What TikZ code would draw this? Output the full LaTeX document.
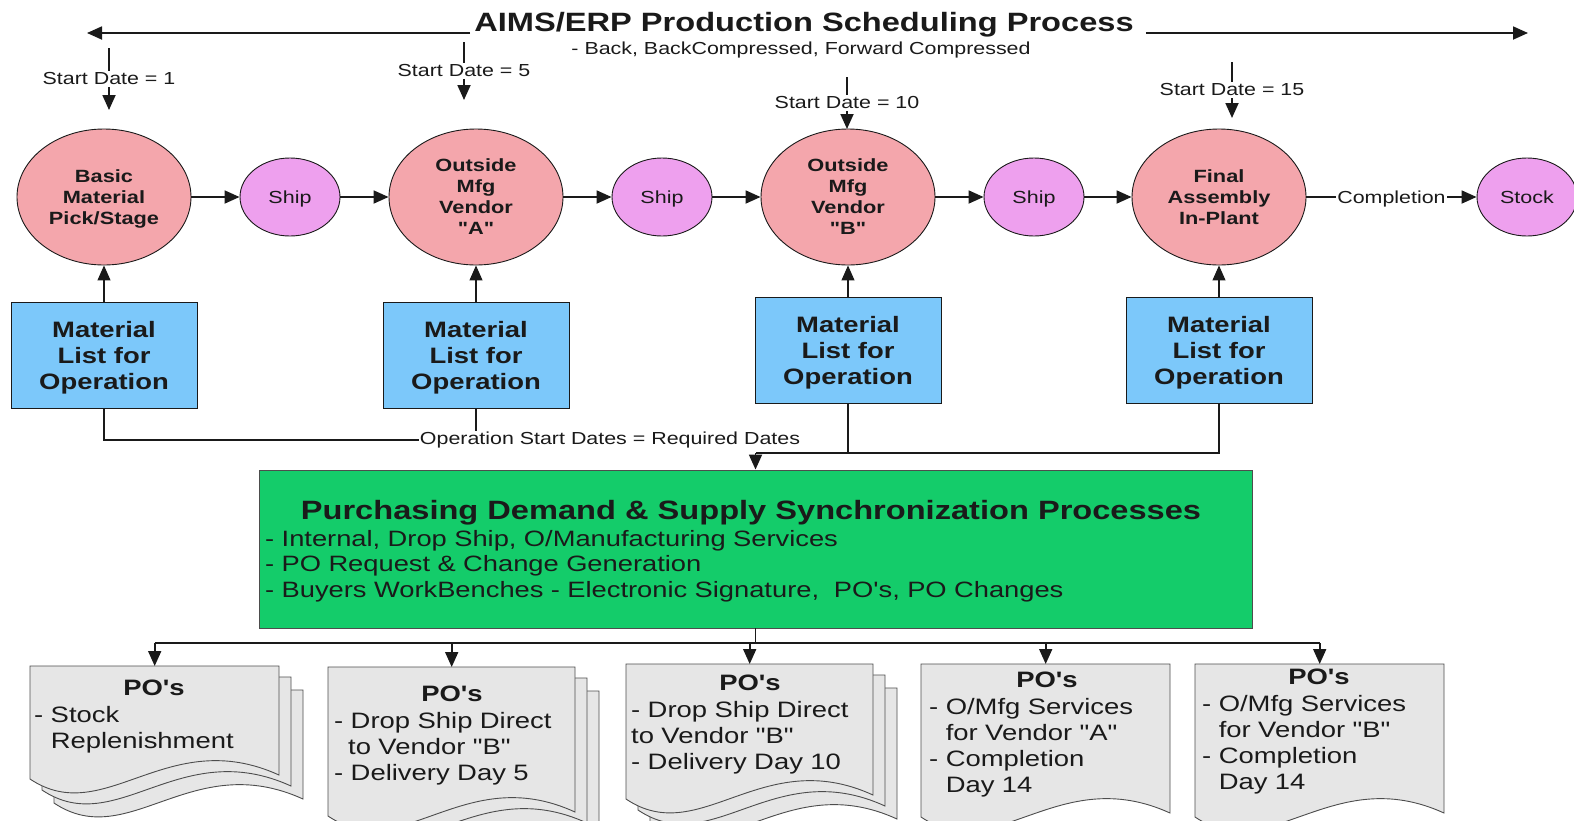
\documentclass[tikz,border=0pt]{standalone}
\usepackage{fontspec}
\setmainfont{Liberation Sans}[FakeStretch=1.23, Ligatures=TeXOff]
\usetikzlibrary{arrows.meta,shapes.geometric,calc}
\definecolor{lc}{HTML}{1A1A1A}
\definecolor{pinkc}{HTML}{F4A6AC}
\definecolor{violc}{HTML}{EEA0EE}
\definecolor{bluec}{HTML}{7CC8FA}
\definecolor{greenc}{HTML}{14CC6A}
\definecolor{docc}{HTML}{E6E6E6}
\definecolor{docline}{HTML}{4D4D4D}
\tikzset{
  conn/.style={draw=lc, line width=1.8pt},
  arr/.style={conn, -{Triangle[length=15pt,width=13pt]}},
  thinarr/.style={draw=lc, line width=1.1pt, -{Triangle[length=15pt,width=13pt]}},
  thinconn/.style={draw=lc, line width=1.3pt},
  lbl/.style={text=lc, inner sep=1.5pt, font=\fontsize{17.4}{20}\selectfont},
  bigc/.style={ellipse, draw=lc, line width=0.9pt, fill=pinkc, minimum width=174pt, minimum height=136pt, inner sep=0pt, align=center, text=lc, text depth=0pt, font=\bfseries\fontsize{17.7}{21}\selectfont},
  smallc/.style={ellipse, draw=lc, line width=0.9pt, fill=violc, minimum width=100pt, minimum height=78pt, inner sep=0pt, align=center, text=lc, text depth=0pt, font=\fontsize{17.5}{21}\selectfont},
  matbox/.style={rectangle, draw=lc, line width=0.9pt, fill=bluec, minimum width=186pt, minimum height=106pt, inner sep=0pt, align=center, text=lc, text depth=0pt, font=\bfseries\fontsize{22.3}{26}\selectfont},
  greenbox/.style={rectangle, draw=docline, line width=0.9pt, fill=greenc, minimum width=993pt, minimum height=158pt, inner sep=0pt},
  docnode/.style={rectangle, draw=none, inner sep=0pt, anchor=north west},
  docpagestyle/.style={fill=docc, draw=docline, line width=0.9pt},
  potitle/.style={inner sep=0pt, text=lc, font=\bfseries\fontsize{22.3}{26}\selectfont},
  pobody/.style={inner sep=0pt, text=lc, anchor=base west, text width=245pt, align=left, font=\fontsize{22.3}{26}\selectfont},
}
\newcommand\docpage[4]{%
  \filldraw[docpagestyle] (#1,#2) -- ({#1+#3},#2) -- ({#1+#3},{#2+#4-4})
   .. controls ({#1+0.55*#3},{#2+#4-55}) and ({#1+0.3*#3},{#2+#4+50}) .. (#1,{#2+#4}) -- cycle;}
\newcommand\multidoc[4]{%
  \docpage{#1+24}{#2+24}{#3}{#4}%
  \docpage{#1+12}{#2+11}{#3}{#4}%
  \docpage{#1}{#2}{#3}{#4}}
\begin{document}
\begin{tikzpicture}[x=1pt,y=-1pt]
\clip (0,0) rectangle (1574,820);
\fill[white] (0,0) rectangle (1574,820);

% title
\node[inner sep=0pt, text=lc, font=\bfseries\fontsize{26.5}{30}\selectfont] (title) at (804,25) {AIMS/ERP Production Scheduling Process};
\node[lbl] (subtitle) at (801,50) {- Back, BackCompressed, Forward Compressed};
\coordinate (tL) at (87,33);
\coordinate (tR) at (1528,33);
\draw[arr] ([xshift=-4pt]title.west |- tL) -- (tL);
\draw[arr] ([xshift=12pt]title.east |- tR) -- (tR);

% start date markers
\coordinate (m1a) at (109,48);  \coordinate (m1b) at (109,110);
\coordinate (m2a) at (464,42);  \coordinate (m2b) at (464,100);
\coordinate (m3a) at (847,77);  \coordinate (m3b) at (847,129);
\coordinate (m4a) at (1232,62); \coordinate (m4b) at (1232,118);
\draw[arr] (m1a) -- node[lbl, fill=white] (sd1) {Start Date = 1} (m1b);
\draw[arr] (m2a) -- node[lbl, fill=white] (sd2) {Start Date = 5} (m2b);
\draw[arr] (m3a) -- node[lbl, fill=white] (sd3) {Start Date = 10} (m3b);
\draw[arr] (m4a) -- node[lbl, fill=white] (sd4) {Start Date = 15} (m4b);

% process row
\node[bigc] (c1) at (104,197) {Basic\\Material\\Pick/Stage};
\node[smallc] (s1) at (290,197) {Ship};
\node[bigc] (c2) at (476,197) {Outside\\Mfg\\Vendor\\"A"};
\node[smallc] (s2) at (662,197) {Ship};
\node[bigc] (c3) at (848,197) {Outside\\Mfg\\Vendor\\"B"};
\node[smallc] (s3) at (1034,197) {Ship};
\node[bigc] (c4) at (1219,197) {Final\\Assembly\\In-Plant};
\node[smallc] (stock) at (1527,197) {Stock};
\draw[arr] (c1) -- (s1);
\draw[arr] (s1) -- (c2);
\draw[arr] (c2) -- (s2);
\draw[arr] (s2) -- (c3);
\draw[arr] (c3) -- (s3);
\draw[arr] (s3) -- (c4);
\draw[arr] (c4) -- node[lbl, fill=white, inner sep=1pt, text depth=0pt] (compl) {Completion} (stock);

% material lists
\node[matbox] (b1) at (104,355) {Material\\List for\\Operation};
\node[matbox] (b2) at (476,355) {Material\\List for\\Operation};
\node[matbox] (b3) at (848,350) {Material\\List for\\Operation};
\node[matbox] (b4) at (1219,350) {Material\\List for\\Operation};
\draw[thinarr] (b1) -- (c1);
\draw[thinarr] (b2) -- (c2);
\draw[thinarr] (b3) -- (c3);
\draw[thinarr] (b4) -- (c4);

% required dates
\node[lbl, inner sep=1pt] (osd) at (610,440) {Operation Start Dates = Required Dates};
\draw[conn] (b1.south) |- (osd.west);
\draw[thinconn] (b2.south) -- (b2.south |- osd.north);
\coordinate (j) at (755.5,453);
\draw[conn] (b4.south) |- (j);
\draw[thinconn] (b3.south) -- (b3.south |- j);

% purchasing box
\node[greenbox] (green) at (755.5,549) {};
\draw[arr] (j) -- (j |- green.north);
\node[inner sep=0pt, text=lc, font=\bfseries\fontsize{26.5}{30}\selectfont] (gtitle) at (751,513) {Purchasing Demand \& Supply Synchronization Processes};
\node[inner sep=0pt, text=lc, anchor=base west, text width=980pt, align=left, font=\fontsize{22.2}{25.5}\selectfont] (gbody) at (265,546)
  {- Internal, Drop Ship, O/Manufacturing Services\\- PO Request \& Change Generation\\- Buyers WorkBenches - Electronic Signature,\ \ PO's, PO Changes};

% documents
\multidoc{30}{666}{249}{113}
\multidoc{328}{667}{247}{149}
\multidoc{626}{664}{247}{135}
\docpage{921}{664}{249}{153}
\docpage{1195}{664}{249}{153}
\node[docnode, minimum width=249pt, minimum height=113pt] (d1) at (30,666) {};
\node[docnode, minimum width=247pt, minimum height=149pt] (d2) at (328,667) {};
\node[docnode, minimum width=247pt, minimum height=135pt] (d3) at (626,664) {};
\node[docnode, minimum width=249pt, minimum height=153pt] (d4) at (921,664) {};
\node[docnode, minimum width=249pt, minimum height=153pt] (d5) at (1195,664) {};

\node[potitle] (d1t) at (154,688) {PO's};
\node[pobody] (d1b) at (34,722) {- Stock\\\phantom{- }Replenishment};
\node[potitle] (d2t) at (452,694) {PO's};
\node[pobody] (d2b) at (334,728) {- Drop Ship Direct\\\hspace*{14pt}to Vendor "B"\\- Delivery Day 5};
\node[potitle] (d3t) at (750,683) {PO's};
\node[pobody] (d3b) at (631,717) {- Drop Ship Direct\\to Vendor "B"\\- Delivery Day 10};
\node[potitle] (d4t) at (1047,680) {PO's};
\node[pobody] (d4b) at (929,714) {- O/Mfg Services\\\phantom{- }for Vendor "A"\\- Completion\\\phantom{- }Day 14};
\node[potitle] (d5t) at (1319,677) {PO's};
\node[pobody] (d5b) at (1202,711) {- O/Mfg Services\\\phantom{- }for Vendor "B"\\- Completion\\\phantom{- }Day 14};

% bus to documents
\coordinate (bus) at (755.5,643);
\draw[conn] (green.south) -- (bus);
\draw[conn] (d1.north |- bus) -- (d5.north |- bus);
\draw[arr] (d1.north |- bus) -- (d1.north);
\draw[arr] (d2.north |- bus) -- (d2.north);
\draw[arr] (d3.north |- bus) -- (d3.north);
\draw[arr] (d4.north |- bus) -- (d4.north);
\draw[arr] (d5.north |- bus) -- (d5.north);
\end{tikzpicture}
\end{document}
